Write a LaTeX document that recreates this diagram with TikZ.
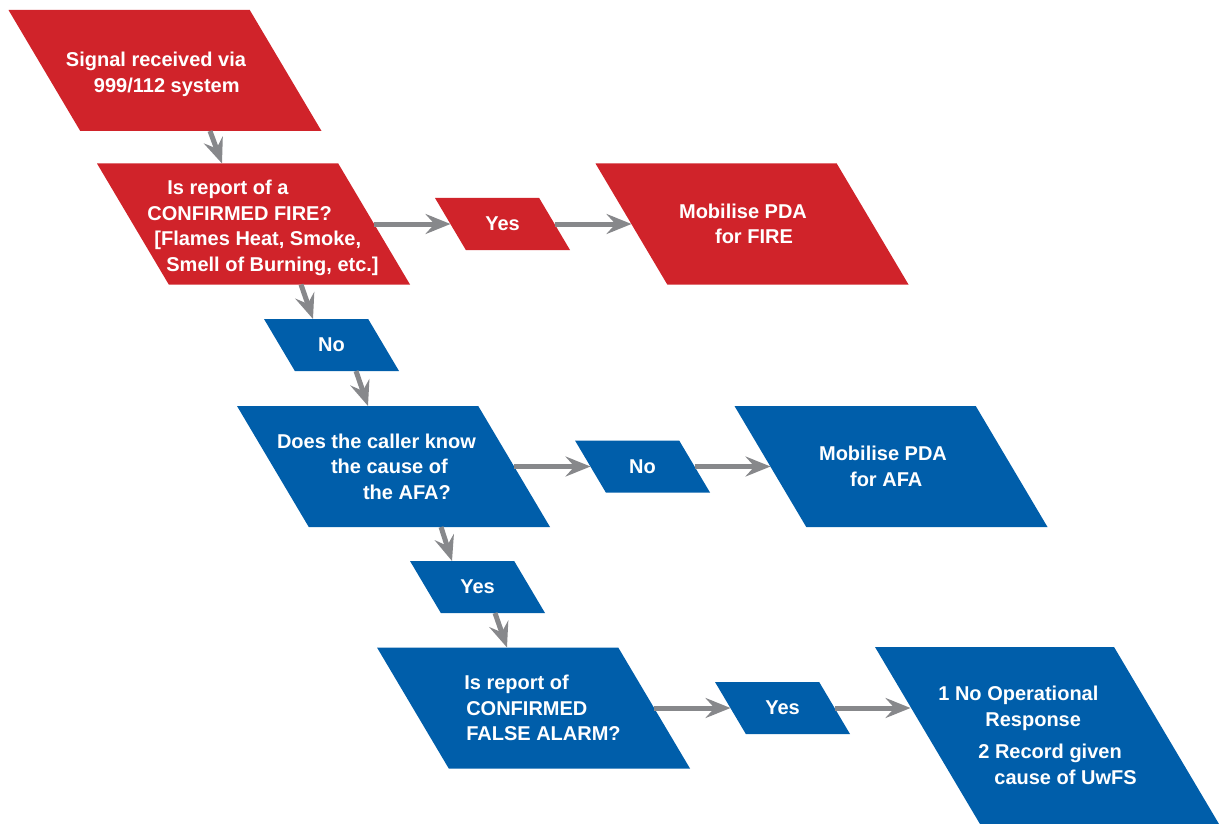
\documentclass[tikz,border=0pt]{standalone}
\usepackage{fontspec}
\setmainfont{Liberation Sans}
\usetikzlibrary{arrows.meta,calc}
\definecolor{firered}{RGB}{208,35,42}
\definecolor{afablue}{RGB}{0,94,170}
\definecolor{arrowgrey}{RGB}{135,136,139}
\tikzset{para colour/.store in=\paracol, para colour=firered}

\begin{document}
\begin{tikzpicture}[x=1pt,y=-1pt,
      para/.style={inner sep=0pt,outer ysep=0pt,text=white,align=left,
                   font=\bfseries\fontsize{20}{25.5}\selectfont,
                   path picture={\fill[\paracol] let \p1=(path picture bounding box.south west),
                     \p2=(path picture bounding box.north east),\n1={(\y2-\y1)*0.593} in
                     (\x1,\y2) -- ({\x2-\n1},\y2) -- (\x2,\y1) -- ({\x1+\n1},\y1) -- cycle;}},
      bigbox/.style={para,minimum width=313pt,minimum height=121pt,outer xsep=-36pt},
      smallbox/.style={para,minimum width=135pt,minimum height=52pt,outer xsep=-15.5pt},
      redbox/.style={para colour=firered},
      bluebox/.style={para colour=afablue},
      arr/.style={-{Stealth[length=25pt,width=20pt,inset=9pt]},line width=5pt,arrowgrey}]
      \useasboundingbox (0,0) rectangle (1219,824);

      % Fire branch
      \node[bigbox,redbox] (sig) at (165,70.5)
        {\rule{0pt}{22pt}\hspace*{-18pt}Signal received via\\\hspace*{10pt}999/112 system};
      \node[bigbox,redbox] (fire) at (253.5,224)
        {\rule{0pt}{22pt}\hspace*{39pt}Is report of a\\\hspace*{19pt}CONFIRMED FIRE?\\
         \hspace*{26pt}[Flames Heat, Smoke,\\\hspace*{38pt}Smell of Burning, etc.]};
      \node[smallbox,redbox] (yes1) at (502.5,224) {Yes};
      \node[bigbox,redbox] (mobfire) at (752,224)
        {\hspace*{-18pt}Mobilise PDA\\\hspace*{18pt}for FIRE};

      % AFA branch
      \node[smallbox,bluebox] (no1) at (331.5,345) {No};
      \node[bigbox,bluebox] (afa) at (393.5,466.5)
        {\hspace*{-34pt}Does the caller know\\\hspace*{20pt}the cause of\\\hspace*{52pt}the AFA?};
      \node[smallbox,bluebox] (no2) at (642.5,466.5) {No};
      \node[bigbox,bluebox] (mobafa) at (891,466.5)
        {\hspace*{-16pt}Mobilise PDA\\\hspace*{15pt}for AFA};
      \node[smallbox,bluebox] (yes2) at (477.5,587) {Yes};
      \node[bigbox,bluebox] (false) at (533.5,708)
        {\hspace*{18pt}Is report of\\\hspace*{20pt}CONFIRMED\\\hspace*{20pt}FALSE ALARM?};
      \node[smallbox,bluebox] (yes3) at (782.5,708) {Yes};
      \node[para,bluebox,minimum width=344pt,minimum height=177pt,outer xsep=-52.5pt] (final) at (1047,735.5)
        {\hspace*{-19pt}1 No Operational\\\hspace*{28pt}Response\\[7pt]
         \hspace*{21pt}2 Record given\\\hspace*{37pt}cause of UwFS};

      \draw[arr] ([xshift=45pt]sig.south) -- ([xshift=-31.5pt]fire.north);
      \draw[arr] (fire.east) -- (yes1.west);
      \draw[arr] (yes1.east) -- (mobfire.west);
      \draw[arr] ([xshift=47.5pt]fire.south) -- ([xshift=-18.5pt]no1.north);
      \draw[arr] ([xshift=24.5pt]no1.south) -- ([xshift=-25.5pt]afa.north);
      \draw[arr] (afa.east) -- (no2.west);
      \draw[arr] (no2.east) -- (mobafa.west);
      \draw[arr] ([xshift=47.5pt]afa.south) -- ([xshift=-25.5pt]yes2.north);
      \draw[arr] ([xshift=17.5pt]yes2.south) -- ([xshift=-26.5pt]false.north);
      \draw[arr] (false.east) -- (yes3.west);
      \draw[arr] (yes3.east) -- ([xshift=-17pt]final.west |- yes3.east);
    \end{tikzpicture}
\end{document}
